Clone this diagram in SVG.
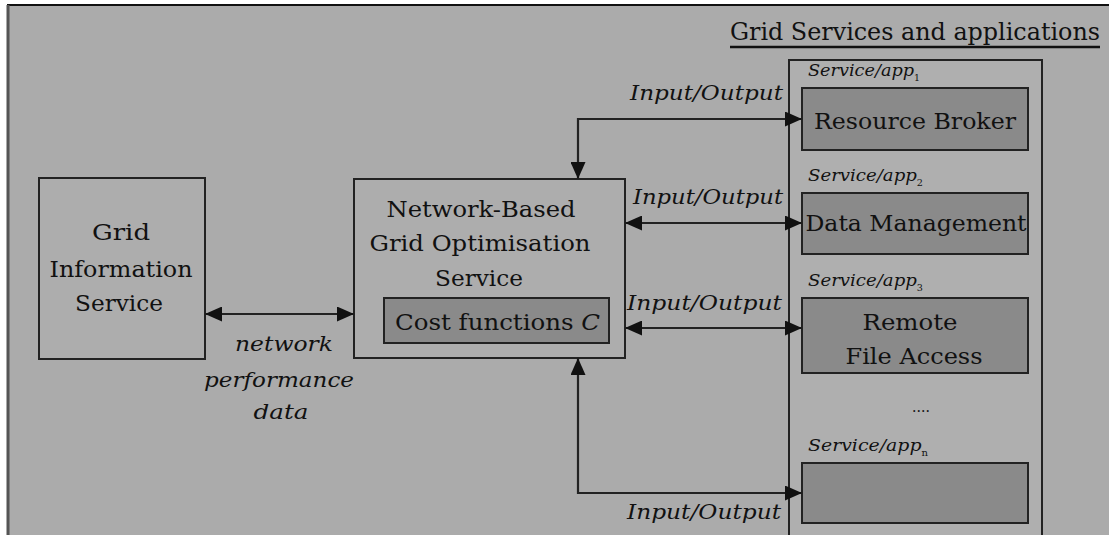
<svg xmlns="http://www.w3.org/2000/svg" width="1109" height="535" viewBox="0 0 1109 535" font-family="'DejaVu Serif','Liberation Serif',serif">
<defs>
<style>
text{font-family:'DejaVu Serif','Liberation Serif',serif;fill:#111;}
.n{font-size:23px;}
.i{font-size:21px;font-style:italic;}
.s{font-size:17px;font-style:italic;}
.sub{font-size:9px;font-style:normal;}
.box{fill:#adadad;stroke:#222;stroke-width:2;}
.dark{fill:#8a8a8a;stroke:#222;stroke-width:2;}
.c{fill:none;stroke:#222;stroke-width:2.2;}
</style>
<marker id="ah" viewBox="0 0 17 15" refX="17" refY="7.5" markerWidth="17" markerHeight="15" markerUnits="userSpaceOnUse" orient="auto-start-reverse">
<path d="M0,0 L17,7.5 L0,15 Z" fill="#111"/>
</marker>
</defs>
<rect x="0" y="0" width="1109" height="535" fill="#ffffff"/>
<rect x="8" y="5" width="1101" height="530" fill="#ababab"/>
<line x1="7" y1="5" x2="1109" y2="5" stroke="#111" stroke-width="2"/>
<line x1="8" y1="5" x2="8" y2="535" stroke="#555" stroke-width="3"/>

<g id="title">
<text x="730" y="40" font-size="24" textLength="370" lengthAdjust="spacingAndGlyphs">Grid Services and applications</text>
<line x1="730" y1="47" x2="1100" y2="47" stroke="#111" stroke-width="2.5"/>
</g>

<g id="container">
<rect x="789" y="60" width="253" height="480" fill="#afafaf" stroke="#222" stroke-width="2"/>
</g>

<g id="gis">
<rect class="box" x="39" y="178" width="166" height="181"/>
<text class="n" x="121" y="240" text-anchor="middle" textLength="58" lengthAdjust="spacingAndGlyphs">Grid</text>
<text class="n" x="121" y="277" text-anchor="middle" textLength="143" lengthAdjust="spacingAndGlyphs">Information</text>
<text class="n" x="119" y="311" text-anchor="middle" textLength="88" lengthAdjust="spacingAndGlyphs">Service</text>
</g>

<g id="nbgos">
<rect class="box" x="354" y="179" width="271" height="179"/>
<text class="n" x="481" y="217" text-anchor="middle" textLength="189" lengthAdjust="spacingAndGlyphs">Network-Based</text>
<text class="n" x="480" y="251" text-anchor="middle" textLength="221" lengthAdjust="spacingAndGlyphs">Grid Optimisation</text>
<text class="n" x="479" y="286" text-anchor="middle" textLength="88" lengthAdjust="spacingAndGlyphs">Service</text>
</g>

<g id="cost">
<rect class="dark" x="384" y="298" width="225" height="45"/>
<text class="n" x="395" y="330" textLength="205" lengthAdjust="spacingAndGlyphs">Cost functions <tspan font-style="italic">C</tspan></text>
</g>

<g id="rb">
<text class="s" x="808" y="76" textLength="112" lengthAdjust="spacingAndGlyphs">Service/app<tspan class="sub" dy="5">1</tspan></text>
<rect class="dark" x="802" y="88" width="226" height="62"/>
<text class="n" x="915" y="129" text-anchor="middle" textLength="202" lengthAdjust="spacingAndGlyphs">Resource Broker</text>
</g>

<g id="dm">
<text class="s" x="808" y="181" textLength="115" lengthAdjust="spacingAndGlyphs">Service/app<tspan class="sub" dy="5">2</tspan></text>
<rect class="dark" x="802" y="193" width="226" height="61"/>
<text class="n" x="916" y="231" text-anchor="middle" textLength="221" lengthAdjust="spacingAndGlyphs">Data Management</text>
</g>

<g id="rfa">
<text class="s" x="808" y="286" textLength="115" lengthAdjust="spacingAndGlyphs">Service/app<tspan class="sub" dy="5">3</tspan></text>
<rect class="dark" x="802" y="298" width="226" height="75"/>
<text class="n" x="910" y="330" text-anchor="middle" textLength="95" lengthAdjust="spacingAndGlyphs">Remote</text>
<text class="n" x="914" y="364" text-anchor="middle" textLength="137" lengthAdjust="spacingAndGlyphs">File Access</text>
</g>

<g id="dots">
<text x="921" y="412" font-size="14" text-anchor="middle">....</text>
</g>

<g id="appn">
<text class="s" x="808" y="451" textLength="120" lengthAdjust="spacingAndGlyphs">Service/app<tspan class="sub" dy="5">n</tspan></text>
<rect class="dark" x="802" y="463" width="226" height="60"/>
</g>

<g id="connectors">
<line class="c" x1="205" y1="314" x2="354" y2="314" marker-start="url(#ah)" marker-end="url(#ah)"/>
<polyline class="c" points="578,179 578,119 802,119" marker-start="url(#ah)" marker-end="url(#ah)"/>
<line class="c" x1="625" y1="223" x2="802" y2="223" marker-start="url(#ah)" marker-end="url(#ah)"/>
<line class="c" x1="625" y1="328" x2="802" y2="328" marker-start="url(#ah)" marker-end="url(#ah)"/>
<polyline class="c" points="578,358 578,493 802,493" marker-start="url(#ah)" marker-end="url(#ah)"/>
</g>

<g id="labels">
<text class="i" x="783" y="100" text-anchor="end" textLength="153" lengthAdjust="spacingAndGlyphs">Input/Output</text>
<text class="i" x="783" y="204" text-anchor="end" textLength="150" lengthAdjust="spacingAndGlyphs">Input/Output</text>
<text class="i" x="782" y="310" text-anchor="end" textLength="155" lengthAdjust="spacingAndGlyphs">Input/Output</text>
<text class="i" x="781" y="519" text-anchor="end" textLength="154" lengthAdjust="spacingAndGlyphs">Input/Output</text>
<text class="i" x="284" y="351" text-anchor="middle" textLength="98" lengthAdjust="spacingAndGlyphs">network</text>
<text class="i" x="279" y="387" text-anchor="middle" textLength="150" lengthAdjust="spacingAndGlyphs">performance</text>
<text class="i" x="281" y="419" text-anchor="middle" textLength="55" lengthAdjust="spacingAndGlyphs">data</text>
</g>
</svg>
